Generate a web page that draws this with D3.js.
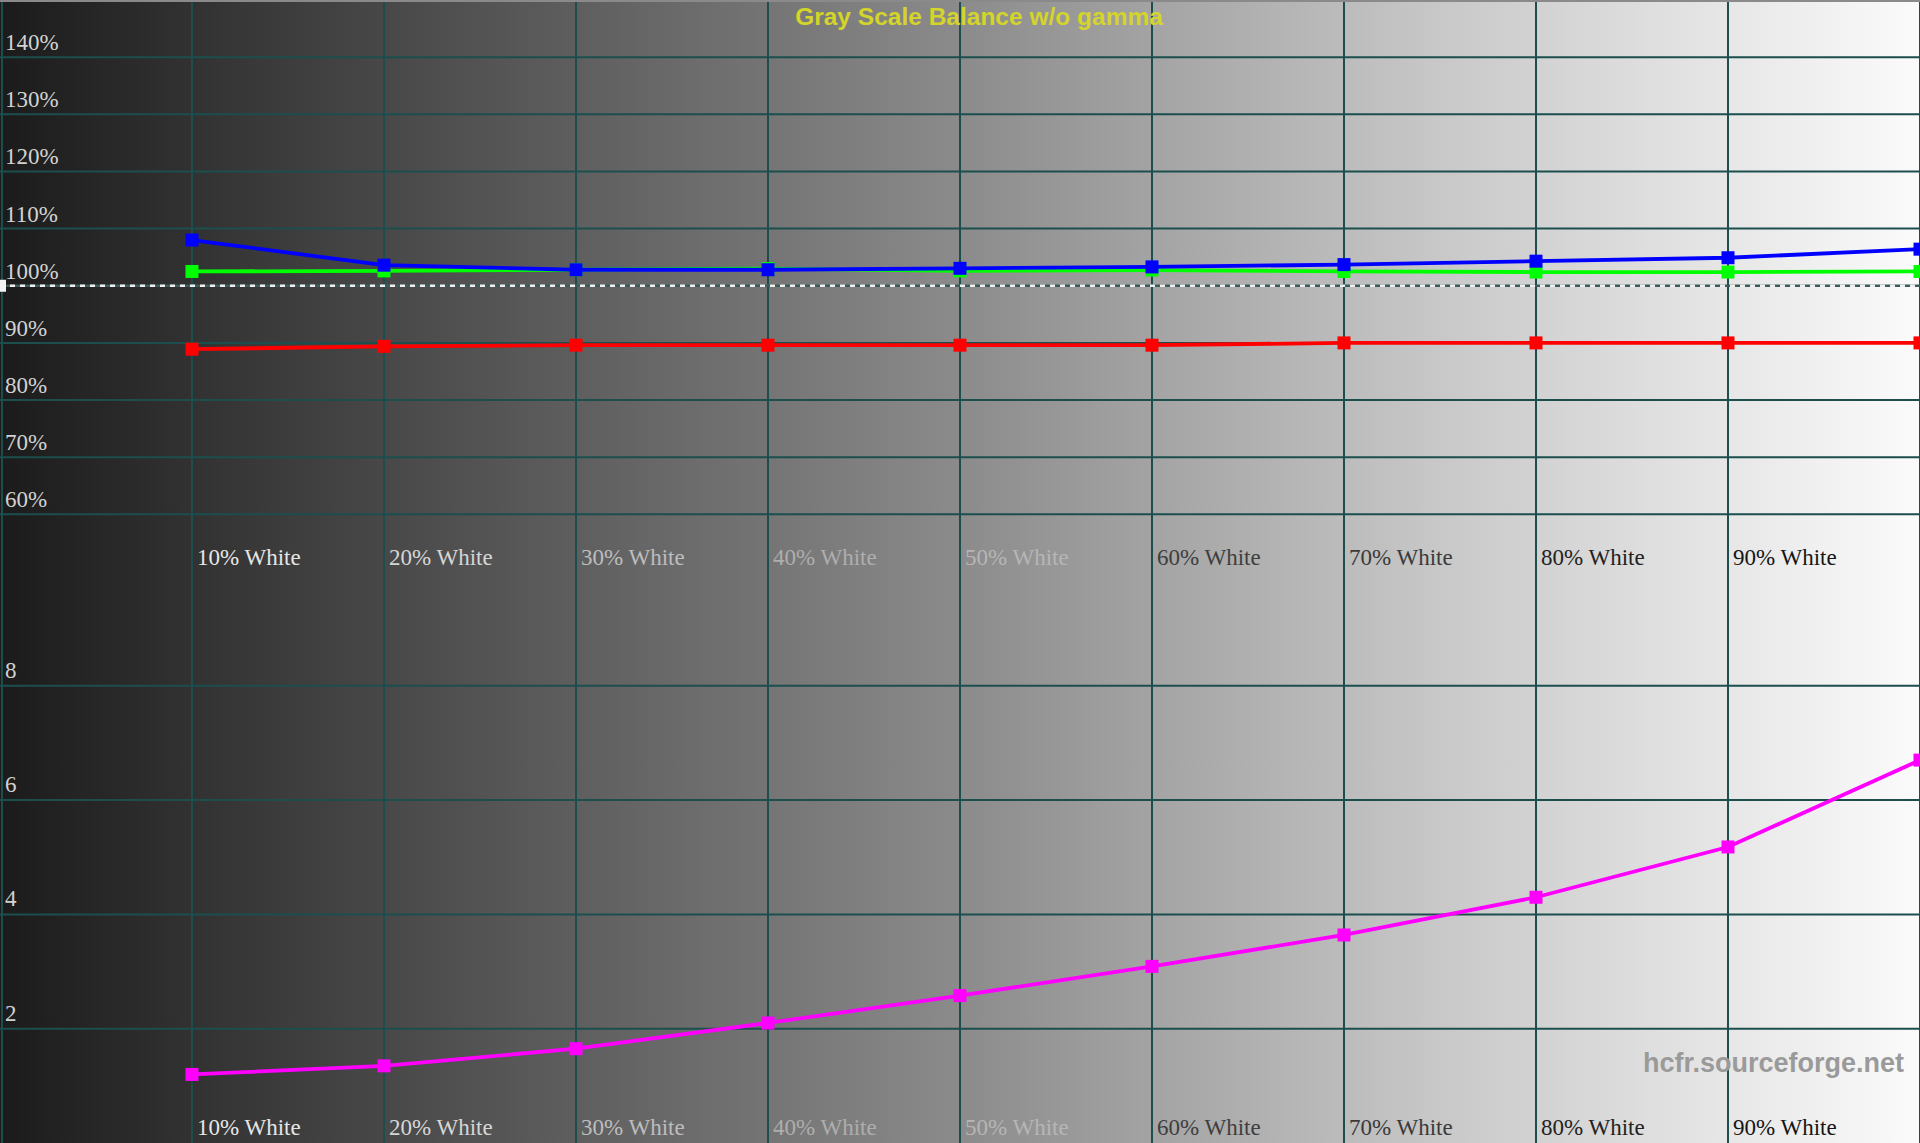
<!DOCTYPE html>
<html>
<head>
<meta charset="utf-8">
<script src="https://cdn.jsdelivr.net/npm/d3@7"></script>
<style>
html,body{margin:0;padding:0;background:#1a1a1a;overflow:hidden;}
svg{display:block;}
</style>
</head>
<body>
<script>
const categories = ["10% White","20% White","30% White","40% White","50% White","60% White","70% White","80% White","90% White","100% White"];
const redValues   = [88.9, 89.4, 89.6, 89.6, 89.6, 89.6, 90.0, 90.0, 90.0, 90.0];
const greenValues = [102.5, 102.6, 102.8, 103.0, 102.6, 102.75, 102.5, 102.4, 102.4, 102.5];
const blueValues  = [108.0, 103.6, 102.8, 102.8, 103.05, 103.3, 103.7, 104.3, 104.9, 106.4];
const deltaEValues = [1.2, 1.35, 1.65, 2.1, 2.58, 3.09, 3.64, 4.30, 5.18, 6.70];
const upperTicks = [60, 70, 80, 90, 100, 110, 120, 130, 140];
const upperTickLabels = ["60%","70%","80%","90%","100%","110%","120%","130%","140%"];
const lowerTicks = [2, 4, 6, 8];
const lowerTickLabels = ["2","4","6","8"];
const labelColors = ["#e6e6e6","#d6d6d6","#bdbdbd","#aeaeae","#b6b6b6","#3e3e3e","#3a3a3a","#222222","#151515"];
const title = "Gray Scale Balance w/o gamma";
const watermark = "hcfr.sourceforge.net";

const W = 1920, H = 1143, half = H / 2;
const svg = d3.select("body").append("svg").attr("width", W).attr("height", H);

const defs = svg.append("defs");
const grad = defs.append("linearGradient").attr("id","bg").attr("x1","0").attr("x2","1").attr("y1","0").attr("y2","0");
grad.append("stop").attr("offset","0").attr("stop-color","#1b1b1b");
grad.append("stop").attr("offset","0.5").attr("stop-color","#8b8b8b");
grad.append("stop").attr("offset","0.75").attr("stop-color","#c8c8c8");
grad.append("stop").attr("offset","1").attr("stop-color","#fbfbfb");
svg.append("rect").attr("width",W).attr("height",H).attr("fill","url(#bg)");

const x = d3.scaleLinear().domain([0, 10]).range([0, W]);
const yU = d3.scaleLinear().domain([50, 150]).range([half, 0]);
const yL = d3.scaleLinear().domain([0, 10]).range([H, half]);
const gridColor = "#1d4e4e";

// vertical grid lines
svg.append("g").selectAll("line").data(categories).join("line")
  .attr("x1",(d,i)=>x(i+1)).attr("x2",(d,i)=>x(i+1))
  .attr("y1",0).attr("y2",H)
  .attr("stroke",gridColor).attr("stroke-width",2);
svg.append("line").attr("x1",2).attr("x2",2).attr("y1",0).attr("y2",H).attr("stroke",gridColor).attr("stroke-width",2);
svg.append("line").attr("x1",0).attr("x2",W).attr("y1",1).attr("y2",1).attr("stroke","#8a8a8a").attr("stroke-width",2);

// horizontal grid lines upper
svg.append("g").selectAll("line").data(upperTicks.filter(t=>t!==100)).join("line")
  .attr("x1",0).attr("x2",W).attr("y1",d=>yU(d)).attr("y2",d=>yU(d))
  .attr("stroke",gridColor).attr("stroke-width",2);
// 100% reference dashed line
svg.append("line").attr("x1",0).attr("x2",W).attr("y1",yU(100)).attr("y2",yU(100))
  .attr("stroke","#3c5c5c").attr("stroke-width",2.5);
svg.append("line").attr("x1",0).attr("x2",W).attr("y1",yU(100)).attr("y2",yU(100))
  .attr("stroke","#f0f0f0").attr("stroke-width",2.5).attr("stroke-dasharray","5,5");
svg.append("rect").attr("x",0).attr("y",yU(100)-6).attr("width",6).attr("height",12).attr("fill","#f4f4f4");

// horizontal grid lines lower
svg.append("g").selectAll("line").data(lowerTicks).join("line")
  .attr("x1",0).attr("x2",W).attr("y1",d=>yL(d)).attr("y2",d=>yL(d))
  .attr("stroke",gridColor).attr("stroke-width",2);

// y labels
const serif = "'Liberation Serif','Times New Roman',serif";
svg.append("g").selectAll("text").data(upperTicks).join("text")
  .attr("x",5).attr("y",d=>yU(d)-7)
  .attr("font-family",serif).attr("font-size",23).attr("fill","#d2d2d2")
  .text((d,i)=>upperTickLabels[i]);
svg.append("g").selectAll("text").data(lowerTicks).join("text")
  .attr("x",5).attr("y",d=>yL(d)-8)
  .attr("font-family",serif).attr("font-size",23).attr("fill","#d2d2d2")
  .text((d,i)=>lowerTickLabels[i]);

// x labels (the 100% column label falls outside the picture, as in the reference)
[565, 1135].forEach(yy=>{
  svg.append("g").selectAll("text").data(categories.slice(0, 9)).join("text")
    .attr("x",(d,i)=>x(i+1)+5).attr("y",yy)
    .attr("font-family",serif).attr("font-size",23)
    .attr("fill",(d,i)=>labelColors[i])
    .text(d=>d);
});

// series
function drawSeries(values, yScale, color, lw){
  const line = d3.line().x((d,i)=>x(i+1)).y(d=>yScale(d));
  svg.append("path").datum(values).attr("d",line).attr("fill","none")
    .attr("stroke",color).attr("stroke-width",lw);
  svg.append("g").selectAll("rect").data(values).join("rect")
    .attr("x",(d,i)=>x(i+1)-6.5).attr("y",d=>yScale(d)-6.5)
    .attr("width",13).attr("height",13).attr("fill",color);
}
drawSeries(redValues, yU, "#ff0000", 3.8);
drawSeries(greenValues, yU, "#00ff00", 3.8);
drawSeries(blueValues, yU, "#0000ff", 3.8);
drawSeries(deltaEValues, yL, "#ff00ff", 3.8);

// title & watermark
svg.append("text").attr("x",979).attr("y",25).attr("text-anchor","middle")
  .attr("font-family","'Liberation Sans',Arial,sans-serif").attr("font-weight","bold")
  .attr("font-size",24.5).attr("fill","#d4d42a").text(title);
svg.append("text").attr("x",1904).attr("y",1072).attr("text-anchor","end")
  .attr("font-family","'Liberation Sans',Arial,sans-serif").attr("font-weight","bold")
  .attr("font-size",27).attr("fill","#9a9a9a").text(watermark);
</script>
</body>
</html>
